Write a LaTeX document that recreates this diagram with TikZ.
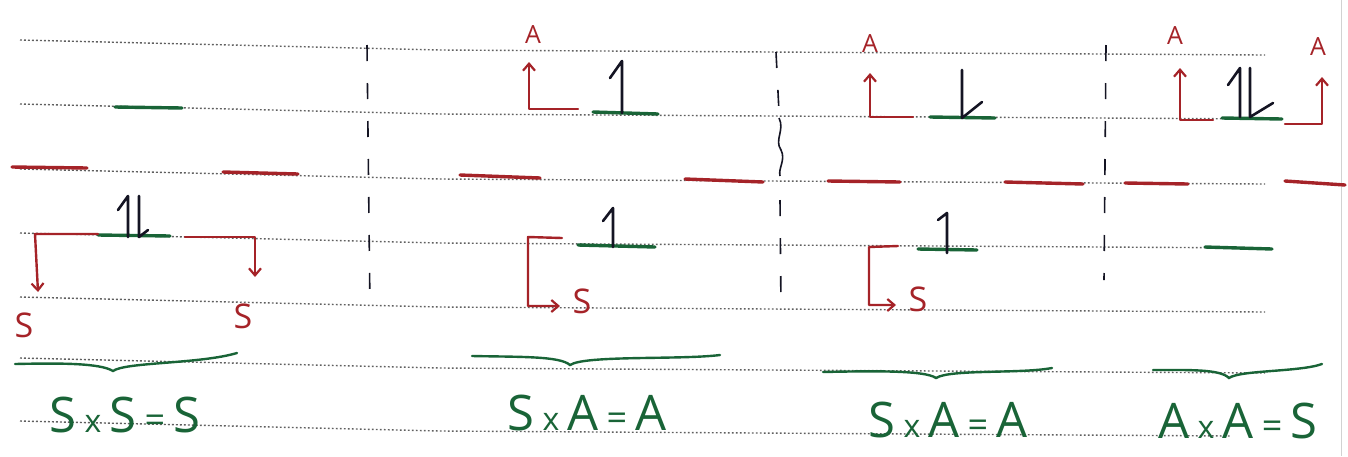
\documentclass[tikz,border=0pt]{standalone}
\usepackage{fontspec}
\setmainfont{Open Sans}
\usetikzlibrary{arrows.meta}
\definecolor{inkred}{RGB}{165,35,40}
\definecolor{inkgreen}{RGB}{25,100,55}
\definecolor{inkblack}{RGB}{20,20,35}
\definecolor{ruleink}{RGB}{95,95,95}
\begin{document}
\begin{tikzpicture}[x=1pt,y=-1pt,
 ruleline/.style={ruleink, line width=1.4pt, dash pattern=on 1.8pt off 2.2pt},
 redlvl/.style={inkred, line width=3.4pt, line cap=round},
 greenlvl/.style={inkgreen, line width=3.4pt, line cap=round},
 redarrow/.style={inkred, line width=2.4pt, line cap=round, line join=round, -{Straight Barb[length=7pt,width=12pt,line width=2.2pt]}},
 spin/.style={inkblack, line width=2.6pt, line cap=round, line join=round},
 divider/.style={inkblack, line width=1.6pt, dash pattern=on 16pt off 22pt},
 brace/.style={inkgreen, line width=2.4pt, line cap=round},
 labA/.style={inkred, font=\fontsize{25}{28}\selectfont, inner sep=0pt},
 labS/.style={inkred, font=\fontsize{34}{38}\selectfont, inner sep=0pt},
 eqn/.style={inkgreen, font=\fontsize{49}{54}\selectfont, inner sep=0pt},
]
\useasboundingbox (0,0) rectangle (1348,456);
% ruled paper
\foreach \y in {40,104,169,233,297,358}{
  \draw[ruleline] (20,\y) -- (440,\y+10) -- (1265,\y+15);
}
\draw[ruleline] (20,421) -- (440,431) -- (1230,436);
\draw[gray!35, line width=1pt] (1341,0) -- (1341,456);
% dividers
\draw[divider] (367,45) -- (370,310);
\draw[divider] (776,52) -- (779,112);
\draw[inkblack, line width=1.6pt] (779,118) .. controls (785,130) and (774,140) .. (781,150) .. controls (786,160) and (778,168) .. (780,176);
\draw[divider] (780,200) -- (781,310);
\draw[divider] (1106,45) -- (1104,280);

% ---- section 1 : S x S = S
\draw[greenlvl] (115,107) -- (182,108);
\draw[redlvl] (12,167) -- (87,168);
\draw[redlvl] (223,172) -- (298,174);
\draw[greenlvl] (98,235) -- (170,236);
\draw[spin] (128,237) -- (128,196) -- (118,210);
\draw[spin] (139,196) -- (139,237) -- (148,230);
\coordinate (s1l) at (98,234);
\coordinate (t1l) at (38,292);
\draw[redarrow] (s1l) -- (35,234) -- (t1l);
\coordinate (s1r) at (185,237);
\coordinate (t1r) at (255,277);
\draw[redarrow] (s1r) -| (t1r);
\node[labS] (S1l) at (24,325) {S};
\node[labS] (S1r) at (243,316) {S};
\draw[brace] (15,364) .. controls (60,363) and (100,363) .. (113,371) .. controls (125,362) and (200,364) .. (237,353);
\node[eqn] (E1) at (125,415) {S\,{\fontsize{32}{36}\selectfont x}\,S\,{\fontsize{36}{40}\selectfont =}\,S};

% ---- section 2 : S x A = A
\node[labA] (A2) at (533,35) {A};
\coordinate (o2) at (578,109);
\coordinate (t2) at (529,62);
\draw[redarrow] (o2) -| (t2);
\draw[greenlvl] (593,112) -- (658,114);
\draw[spin] (622,113) -- (622,61) -- (610,78);
\draw[redlvl] (460,175) -- (540,178);
\draw[redlvl] (685,179) -- (763,182);
\draw[greenlvl] (578,245) -- (655,247);
\draw[spin] (613,247) -- (613,208) -- (603,221);
\coordinate (o2b) at (562,238);
\coordinate (t2b) at (560,306);
\draw[redarrow] (o2b) -- (528,237) |- (t2b);
\node[labS] (S2) at (582,301) {S};
\draw[brace] (472,356) .. controls (520,357) and (560,356) .. (570,365) .. controls (585,355) and (680,360) .. (720,355);
\node[eqn] (E2) at (587,413) {S\,{\fontsize{32}{36}\selectfont x}\,A\,{\fontsize{36}{40}\selectfont =}\,A};

% ---- section 3 : S x A = A
\node[labA] (A3) at (870,44) {A};
\coordinate (o3) at (913,117);
\coordinate (t3) at (870,73);
\draw[redarrow] (o3) -| (t3);
\draw[greenlvl] (930,117) -- (995,118);
\draw[spin] (962,70) -- (962,118) -- (982,102);
\draw[redlvl] (828,181) -- (900,182);
\draw[redlvl] (1005,182) -- (1083,184);
\draw[greenlvl] (918,249) -- (977,250);
\draw[spin] (947,253) -- (947,213) -- (938,220);
\coordinate (o3b) at (898,246);
\coordinate (t3b) at (896,305);
\draw[redarrow] (o3b) -- (869,247) |- (t3b);
\node[labS] (S3) at (918,299) {S};
\draw[brace] (823,372) .. controls (870,371) and (925,370) .. (936,378) .. controls (950,369) and (1020,374) .. (1052,368);
\node[eqn] (E3) at (948,420) {S\,{\fontsize{32}{36}\selectfont x}\,A\,{\fontsize{36}{40}\selectfont =}\,A};

% ---- section 4 : A x A = S
\node[labA] (A4l) at (1175,36) {A};
\node[labA] (A4r) at (1318,47) {A};
\coordinate (o4l) at (1213,120);
\coordinate (t4l) at (1180,68);
\draw[redarrow] (o4l) -| (t4l);
\draw[greenlvl] (1222,118) -- (1282,119);
\draw[spin] (1240,117) -- (1240,68) -- (1228,85);
\draw[spin] (1250,68) -- (1250,117) -- (1273,103);
\coordinate (o4r) at (1285,124);
\coordinate (t4r) at (1322,77);
\draw[redarrow] (o4r) -| (t4r);
\draw[redlvl] (1125,183) -- (1188,184);
\draw[redlvl] (1285,181) -- (1345,185);
\draw[greenlvl] (1205,247) -- (1272,249);
\draw[brace] (1153,370) .. controls (1190,370) and (1220,369) .. (1229,378) .. controls (1240,370) and (1300,372) .. (1322,364);
\node[eqn] (E4) at (1238,421) {A\,{\fontsize{32}{36}\selectfont x}\,A\,{\fontsize{36}{40}\selectfont =}\,S};
\end{tikzpicture}
\end{document}
